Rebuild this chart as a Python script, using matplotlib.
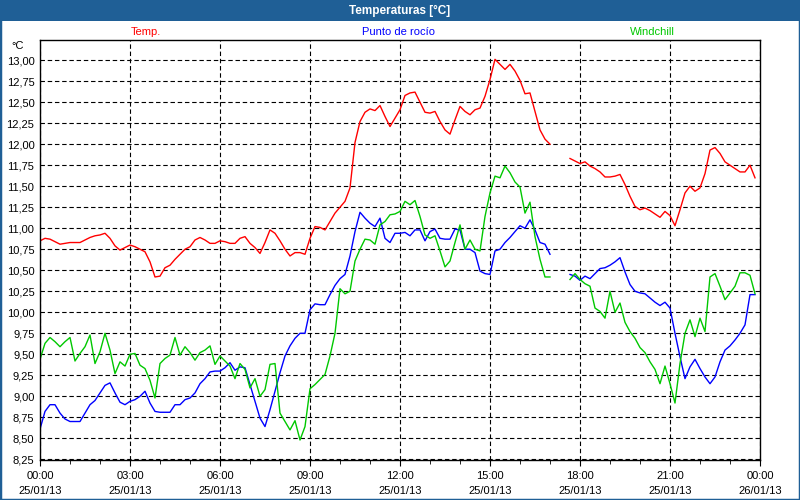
#!/usr/bin/env python3
"""Temperaturas [°C]: Temp., Punto de rocío e Windchill del 25/01/13."""
import numpy as np
import pandas as pd
import matplotlib
matplotlib.use("Agg")
import matplotlib.pyplot as plt
import matplotlib.dates as mdates
from matplotlib.patches import Rectangle
from matplotlib.ticker import MultipleLocator, FuncFormatter

nan = np.nan

# --- Datos (una muestra cada 10 minutos, 00:00 -> 23:50) ---
times = pd.date_range("2013-01-25 00:00", periods=144, freq="10min")

temp = [
    # 00:00 - 03:00
    10.85, 10.88, 10.87, 10.84, 10.81, 10.82, 10.83, 10.83, 10.83, 10.86,
    10.89, 10.91, 10.92, 10.94, 10.88, 10.79, 10.74, 10.77, 10.80,
    # 03:10 - 06:00
    10.78, 10.75, 10.72, 10.60, 10.42, 10.43, 10.53, 10.56, 10.63, 10.69,
    10.75, 10.78, 10.86, 10.89, 10.86, 10.82, 10.82, 10.85,
    # 06:10 - 09:00
    10.84, 10.82, 10.82, 10.88, 10.90, 10.82, 10.77, 10.70, 10.83, 10.98,
    10.94, 10.85, 10.75, 10.67, 10.71, 10.71, 10.69, 10.88,
    # 09:10 - 12:00
    11.02, 11.01, 10.98, 11.08, 11.18, 11.25, 11.32, 11.48, 12.02, 12.27,
    12.38, 12.42, 12.40, 12.46, 12.33, 12.21, 12.31, 12.41,
    # 12:10 - 15:00
    12.58, 12.61, 12.62, 12.50, 12.38, 12.37, 12.39, 12.27, 12.17, 12.12,
    12.29, 12.45, 12.39, 12.35, 12.41, 12.43, 12.57, 12.77,
    # 15:10 - 17:00
    13.01, 12.95, 12.89, 12.95, 12.87, 12.76, 12.60, 12.61, 12.39, 12.17,
    12.06, 12.00,
    # 17:10 - 17:50 (hueco)
    nan, nan, nan, 11.83, 11.80,
    # 18:00 - 21:00
    11.77, 11.79, 11.74, 11.71, 11.67, 11.61, 11.61, 11.62, 11.64, 11.52,
    11.38, 11.26, 11.22, 11.24, 11.21, 11.17, 11.13, 11.20, 11.15,
    # 21:10 - 23:50
    11.03, 11.22, 11.42, 11.50, 11.44, 11.48, 11.65, 11.93, 11.96, 11.89,
    11.79, 11.75, 11.71, 11.67, 11.67, 11.75, 11.60,
]

rocio = [
    8.61, 8.82, 8.90, 8.90, 8.80, 8.73, 8.70, 8.70, 8.70, 8.80,
    8.90, 8.95, 9.04, 9.13, 9.16, 9.04, 8.93, 8.90, 8.94,
    8.96, 9.00, 9.06, 8.92, 8.82, 8.81, 8.81, 8.81, 8.90, 8.90,
    8.96, 8.98, 9.04, 9.15, 9.21, 9.29, 9.30, 9.30,
    9.34, 9.40, 9.31, 9.35, 9.34, 9.14, 8.94, 8.74, 8.64, 8.84,
    9.06, 9.28, 9.48, 9.60, 9.69, 9.75, 9.75, 10.03,
    10.10, 10.09, 10.09, 10.21, 10.32, 10.40, 10.45, 10.67, 10.96, 11.19,
    11.12, 11.06, 11.02, 11.12, 10.88, 10.83, 10.94, 10.94,
    10.95, 10.91, 10.98, 10.98, 10.85, 10.96, 10.99, 10.88, 10.87, 10.87,
    10.99, 10.98, 10.75, 10.75, 10.71, 10.49, 10.46, 10.45,
    10.73, 10.75, 10.83, 10.89, 10.96, 11.03, 11.00, 11.10, 10.98, 10.83,
    10.81, 10.69,
    nan, nan, nan, 10.45, 10.43,
    10.38, 10.43, 10.40, 10.46, 10.52, 10.53, 10.56, 10.60, 10.65, 10.48,
    10.33, 10.25, 10.23, 10.22, 10.17, 10.12, 10.08, 10.12, 10.05,
    9.75, 9.47, 9.21, 9.35, 9.44, 9.33, 9.23, 9.15, 9.23, 9.41,
    9.55, 9.60, 9.67, 9.75, 9.85, 10.21, 10.21,
]

windchill = [
    9.44, 9.63, 9.70, 9.65, 9.59, 9.65, 9.70, 9.42, 9.51, 9.59,
    9.73, 9.39, 9.53, 9.75, 9.55, 9.27, 9.41, 9.36, 9.50,
    9.51, 9.37, 9.33, 9.19, 8.98, 9.39, 9.45, 9.49, 9.70, 9.49,
    9.59, 9.52, 9.43, 9.52, 9.55, 9.60, 9.38, 9.48,
    9.42, 9.36, 9.21, 9.39, 9.32, 9.10, 9.21, 9.00, 9.08, 9.38,
    9.39, 8.80, 8.70, 8.60, 8.71, 8.48, 8.64, 9.09,
    9.14, 9.20, 9.26, 9.48, 9.75, 10.28, 10.22, 10.25, 10.61, 10.75,
    10.87, 10.86, 10.81, 11.04, 11.08, 11.16, 11.17, 11.20,
    11.32, 11.28, 11.33, 11.14, 10.92, 10.88, 10.91, 10.73, 10.54, 10.61,
    10.83, 11.04, 10.75, 10.86, 10.75, 10.73, 11.14, 11.42,
    11.62, 11.60, 11.74, 11.66, 11.55, 11.49, 11.18, 11.31, 10.90, 10.63,
    10.42, 10.42,
    nan, nan, nan, 10.39, 10.46,
    10.39, 10.34, 10.31, 10.05, 10.01, 9.93, 10.25, 10.00, 10.11, 9.88,
    9.77, 9.69, 9.58, 9.52, 9.41, 9.32, 9.15, 9.36, 9.15,
    8.92, 9.39, 9.75, 9.91, 9.71, 9.93, 9.77, 10.42, 10.46, 10.31,
    10.15, 10.23, 10.31, 10.47, 10.47, 10.44, 10.22,
]

series_names = ["Temp.", "Punto de rocío", "Windchill"]
series_colors = ["#ff0000", "#0000ff", "#00c800"]

BAR_BLUE = "#1f5f96"
FONT = ["Liberation Sans", "DejaVu Sans"]

plt.rcParams["font.family"] = FONT
plt.rcParams["font.size"] = 8

fig = plt.figure(figsize=(8, 5), dpi=100)
fig.patch.set_facecolor("white")

# --- Barra del titulo y borde de la ventana ---
fig.patches.append(Rectangle((0, 1 - 21 / 500), 1, 21 / 500, transform=fig.transFigure,
                             facecolor=BAR_BLUE, edgecolor="none", zorder=0))
fig.patches.append(Rectangle((0, 0), 1, 1, transform=fig.transFigure, fill=False,
                             edgecolor=BAR_BLUE, linewidth=2.5, zorder=5))
fig.text(0.5, 1 - 10.5 / 500, "Temperaturas [°C]", color="white", fontsize=8.5,
         fontweight="bold", ha="center", va="center")

# Etiquetas de las series encima del grafico
for name, color, xpix in zip(series_names, series_colors, [146, 398, 652]):
    fig.text(xpix / 800, 1 - 32 / 500, name, color=color, ha="center", va="center")

# --- Grafico ---
ax = fig.add_axes([40 / 800, 40 / 500, 720 / 800, 420 / 500])
for vals, color in zip([temp, rocio, windchill], series_colors):
    ax.plot(times, vals, color=color, linewidth=1.0)

ax.set_xlim(pd.Timestamp("2013-01-25 00:00"), pd.Timestamp("2013-01-26 00:00"))
ax.set_ylim(8.242, 13.24)

ax.yaxis.set_major_locator(MultipleLocator(0.25))
ax.yaxis.set_major_formatter(FuncFormatter(lambda v, _: f"{v:.2f}".replace(".", ",")))
ax.xaxis.set_major_locator(mdates.HourLocator(byhour=range(0, 24, 3)))
ax.xaxis.set_minor_locator(mdates.HourLocator())
ax.xaxis.set_major_formatter(mdates.DateFormatter("%H:%M\n%d/%m/%y"))

ax.tick_params(axis="y", length=0, pad=4)
ax.tick_params(axis="x", which="major", length=4, pad=4)
ax.tick_params(axis="x", which="minor", length=3)
for lbl in ax.get_xticklabels():
    lbl.set_linespacing(1.6)

ax.grid(True, which="major", color="black", linestyle=(0, (4, 2.5)), linewidth=0.8)
for sp in ax.spines.values():
    sp.set_linewidth(1.0)

fig.text(24 / 800, 1 - 46 / 500, "°C", ha="right", va="center")

fig.savefig("out.png", dpi=100)
